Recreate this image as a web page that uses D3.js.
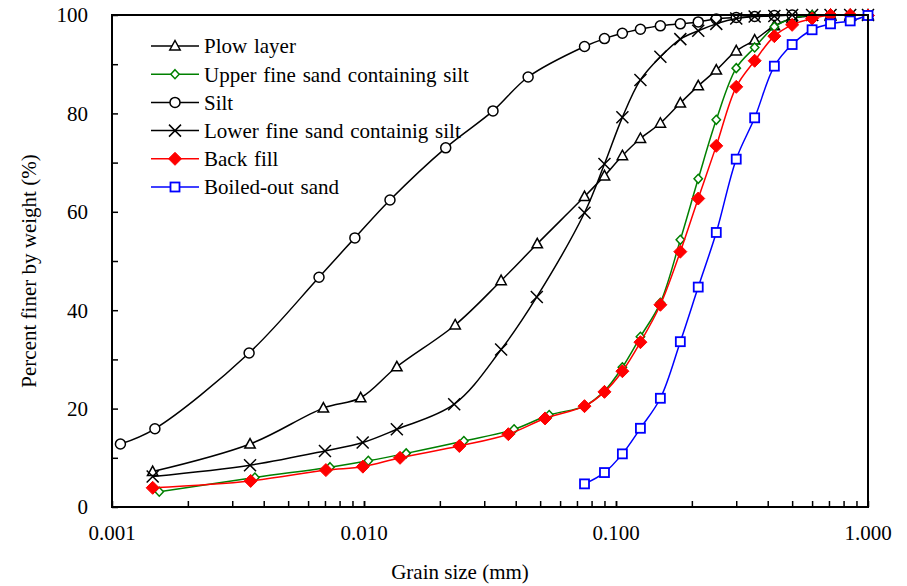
<!DOCTYPE html>
<html>
<head>
<meta charset="utf-8">
<script src="https://cdn.jsdelivr.net/npm/d3@7/dist/d3.min.js"></script>
<style>
  body { margin: 0; background: #fff; }
  svg text { font-family: "Liberation Serif", "Times New Roman", serif; fill: #000; }
</style>
</head>
<body>
<svg id="chart" width="907" height="586"></svg>
<script>
// grain size (mm) and percent finer for each sample
var sieveSizes = [0.075, 0.09, 0.106, 0.125, 0.15, 0.18, 0.212, 0.25, 0.3, 0.355, 0.425, 0.5, 0.6, 0.71, 0.85, 1.0];

var plowSize = [0.00145, 0.00353, 0.0069, 0.0097, 0.0135, 0.023, 0.035, 0.0487].concat(sieveSizes);
var plowPct = [7.2, 12.8, 20.1, 22.2, 28.5, 37.0, 46.0, 53.5, 63.1, 67.3, 71.4, 74.9, 78.0, 82.1, 85.6, 88.8, 92.7, 94.9, 97.8, 99.3, 99.8, 100, 100, 100];

var upperSize = [0.00154, 0.00369, 0.00733, 0.0104, 0.0147, 0.0249, 0.0394, 0.0543].concat(sieveSizes);
var upperPct = [3.1, 6.0, 8.1, 9.4, 10.9, 13.4, 15.8, 18.7, 20.5, 23.6, 28.4, 34.6, 41.5, 54.3, 66.7, 78.7, 89.2, 93.4, 97.6, 99.3, 100, 100, 100, 100];

var siltSize = [0.00108, 0.00148, 0.0035, 0.00663, 0.0092, 0.01268, 0.0211, 0.0325, 0.0448, 0.075, 0.09, 0.106, 0.125, 0.15, 0.18, 0.212, 0.25, 0.3, 0.355, 0.425, 0.5];
var siltPct = [12.8, 15.9, 31.3, 46.7, 54.7, 62.4, 73.0, 80.5, 87.4, 93.6, 95.2, 96.3, 97.1, 97.8, 98.2, 98.6, 99.2, 99.5, 99.7, 99.9, 100];

var lowerSize = [0.00145, 0.00353, 0.0070, 0.00988, 0.0135, 0.0228, 0.035, 0.0485].concat(sieveSizes);
var lowerPct = [6.2, 8.5, 11.4, 13.1, 15.8, 20.9, 32.0, 42.7, 59.8, 69.7, 79.2, 86.8, 91.5, 95.1, 96.8, 98.2, 99.3, 99.7, 99.8, 100, 100, 100, 100, 100];

var backSize = [0.00145, 0.00355, 0.00706, 0.0099, 0.0139, 0.0239, 0.0374, 0.0523].concat(sieveSizes);
var backPct = [3.9, 5.3, 7.5, 8.2, 10.0, 12.4, 14.8, 18.0, 20.5, 23.4, 27.6, 33.5, 41.1, 51.9, 62.7, 73.4, 85.4, 90.7, 95.7, 98.0, 99.3, 100, 100, 99.9];

var boiledSize = sieveSizes;
var boiledPct = [4.7, 7.0, 10.8, 16.0, 22.1, 33.6, 44.7, 55.8, 70.7, 79.1, 89.6, 94.0, 97.0, 98.2, 98.8, 99.9];

var seriesNames = ["Plow layer", "Upper fine sand containing silt", "Silt", "Lower fine sand containig silt", "Back fill", "Boiled-out sand"];
var xTickValues = [0.001, 0.01, 0.1, 1];
var xTickLabels = ["0.001", "0.010", "0.100", "1.000"];
var yTickValues = [0, 20, 40, 60, 80, 100];

var series = [
    {name: seriesNames[0], x: plowSize, y: plowPct, color: "#000", marker: "triangle"},
    {name: seriesNames[1], x: upperSize, y: upperPct, color: "#008000", marker: "smalldiamond"},
    {name: seriesNames[2], x: siltSize, y: siltPct, color: "#000", marker: "circle"},
    {name: seriesNames[3], x: lowerSize, y: lowerPct, color: "#000", marker: "cross"},
    {name: seriesNames[4], x: backSize, y: backPct, color: "#ff0000", marker: "diamond"},
    {name: seriesNames[5], x: boiledSize, y: boiledPct, color: "#0000ff", marker: "square"}
];

var margin = {top: 15, right: 39, bottom: 79, left: 112};
var width = 907 - margin.left - margin.right;
var height = 586 - margin.top - margin.bottom;

var svg = d3.select("#chart");
var g = svg.append("g").attr("transform", "translate(" + margin.left + "," + margin.top + ")");

var x = d3.scaleLog().domain([0.001, 1]).range([0, width]);
var y = d3.scaleLinear().domain([0, 100]).range([height, 0]);

// markers
function drawMarker(sel, type, color) {
    if (type == "circle") {
        sel.append("circle").attr("r", 5).attr("fill", "#fff").attr("stroke", color).attr("stroke-width", 1.5);
    } else if (type == "triangle") {
        sel.append("path").attr("d", "M0,-5.5L5.2,4L-5.2,4Z").attr("fill", "#fff").attr("stroke", color).attr("stroke-width", 1.5);
    } else if (type == "cross") {
        sel.append("path").attr("d", "M-6,-6L6,6M-6,6L6,-6").attr("fill", "none").attr("stroke", color).attr("stroke-width", 1.5);
    } else if (type == "smalldiamond") {
        sel.append("path").attr("d", "M0,-4.5L4.2,0L0,4.5L-4.2,0Z").attr("fill", "#fff").attr("stroke", color).attr("stroke-width", 1.5);
    } else if (type == "diamond") {
        sel.append("path").attr("d", "M0,-6.5L6.5,0L0,6.5L-6.5,0Z").attr("fill", color).attr("stroke", color).attr("stroke-width", 1);
    } else if (type == "square") {
        sel.append("rect").attr("x", -4.5).attr("y", -4.5).attr("width", 9).attr("height", 9)
            .attr("fill", "#fff").attr("stroke", color).attr("stroke-width", 1.8);
    }
}

var line = d3.line()
    .x(function (d) { return x(d[0]); })
    .y(function (d) { return y(d[1]); })
    .curve(d3.curveCatmullRom.alpha(0.5));

series.forEach(function (s) {
    var pts = s.x.map(function (v, i) { return [v, s.y[i]]; });
    var sg = g.append("g");
    sg.append("path").datum(pts).attr("d", line)
        .attr("fill", "none").attr("stroke", s.color).attr("stroke-width", 1.5);
    sg.selectAll("g.pt").data(pts).enter().append("g")
        .attr("class", "pt")
        .attr("transform", function (d) { return "translate(" + x(d[0]) + "," + y(d[1]) + ")"; })
        .each(function () { drawMarker(d3.select(this), s.marker, s.color); });
});

// frame
g.append("rect").attr("x", 0).attr("y", 0).attr("width", width).attr("height", height)
    .attr("fill", "none").attr("stroke", "#000").attr("stroke-width", 2);

// y axis ticks (inside)
var yAxis = d3.axisRight(y).tickValues(d3.range(0, 101, 10)).tickSize(6).tickFormat("");
var yg = g.append("g").call(yAxis);
yg.select(".domain").remove();
yg.selectAll("line").attr("stroke-width", 1.5);
g.selectAll("text.ylab").data(yTickValues).enter().append("text")
    .attr("class", "ylab")
    .attr("x", -24).attr("y", function (d) { return y(d); })
    .attr("dy", "0.35em").attr("text-anchor", "end")
    .style("font-size", "21px")
    .text(function (d) { return d; });

// x axis ticks (inside)
var minorTicks = [];
for (var dec = 0.001; dec < 1; dec *= 10) {
    for (var k = 1; k <= 10; k++) minorTicks.push(+(dec * k).toPrecision(3));
}
var xAxis = d3.axisTop(x).tickValues(minorTicks).tickSize(6).tickFormat("");
var xg = g.append("g").attr("transform", "translate(0," + height + ")").call(xAxis);
xg.select(".domain").remove();
xg.selectAll("line").attr("stroke-width", 1.5);
g.selectAll("text.xlab").data(xTickValues).enter().append("text")
    .attr("class", "xlab")
    .attr("x", function (d) { return x(d); }).attr("y", height + 33)
    .attr("text-anchor", "middle")
    .style("font-size", "21px")
    .text(function (d, i) { return xTickLabels[i]; });

// axis titles
svg.append("text").attr("x", 460).attr("y", 579).attr("text-anchor", "middle")
    .style("font-size", "21px").text("Grain size (mm)");
svg.append("text").attr("transform", "translate(36,271) rotate(-90)").attr("text-anchor", "middle")
    .style("font-size", "21px").text("Percent finer by weight (%)");

// legend
var legend = svg.append("g").attr("transform", "translate(151,46)");
series.forEach(function (s, i) {
    var row = legend.append("g").attr("transform", "translate(0," + (i * 28.2) + ")");
    row.append("line").attr("x1", 0).attr("x2", 48).attr("y1", 0).attr("y2", 0)
        .attr("stroke", s.color).attr("stroke-width", 1.5);
    var m = row.append("g").attr("transform", "translate(24,0)");
    drawMarker(m, s.marker, s.color);
    row.append("text").attr("x", 53).attr("y", 0).attr("dy", "0.35em")
        .style("font-size", "21px").style("word-spacing", "1.5px").text(s.name);
});
</script>
</body>
</html>
